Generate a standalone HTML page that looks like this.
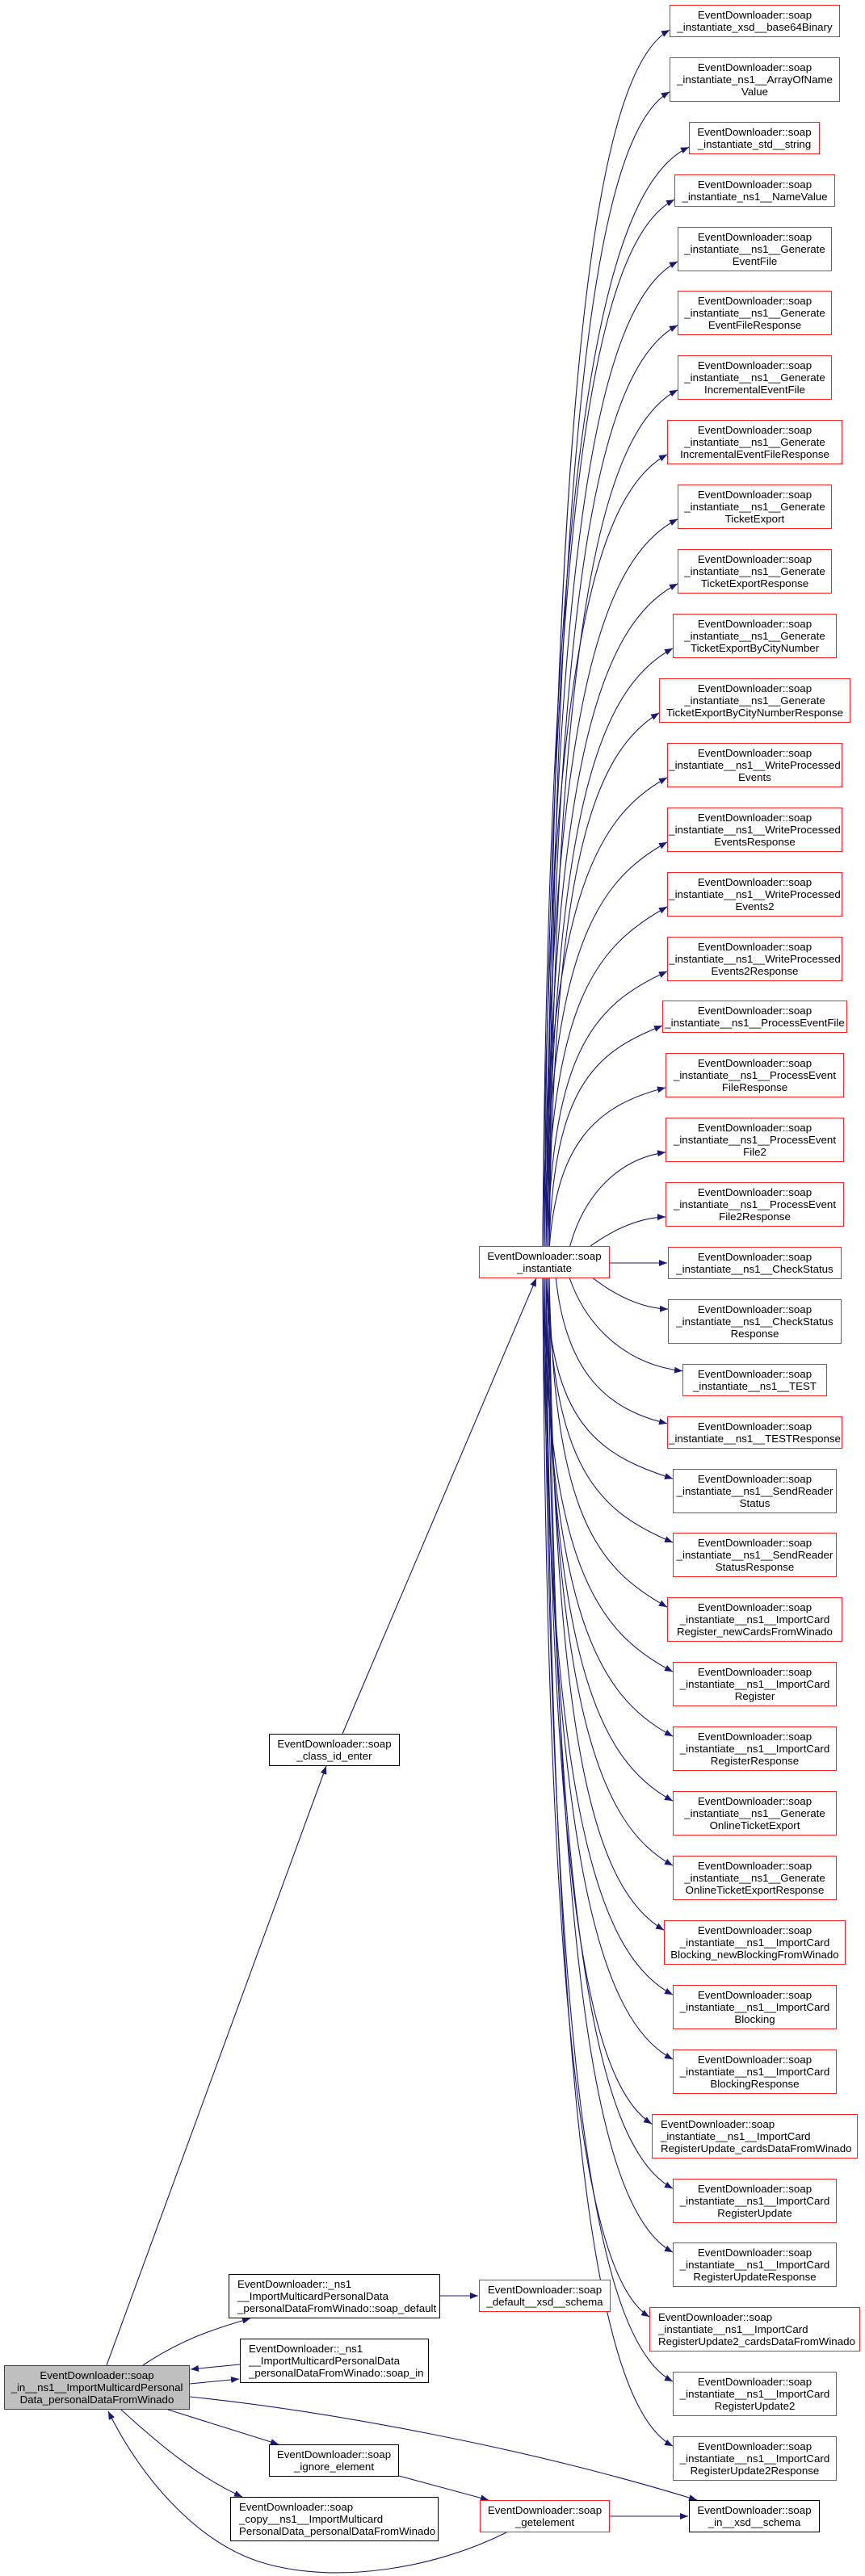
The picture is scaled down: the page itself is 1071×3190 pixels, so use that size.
<!DOCTYPE html>
<html><head><meta charset="utf-8">
<style>
html,body{margin:0;padding:0;background:#fff;}
body{width:1071px;height:3190px;position:relative;overflow:hidden;font-family:"Liberation Sans",Arial,sans-serif;}
.n{position:absolute;box-sizing:border-box;border:1px solid #000;background:#fff;font-size:13.3px;line-height:15px;text-align:center;color:#000;white-space:nowrap;display:flex;flex-direction:column;justify-content:center;}
.r{border:1.5px solid #ff2020;}
.g{background:#bfbfbf;border-color:#404040;}
svg{position:absolute;left:0;top:0;}
</style></head><body>
<svg id="s" width="1071" height="3190" viewBox="0 0 1071 3190">
<defs><marker id="a" markerUnits="userSpaceOnUse" markerWidth="11" markerHeight="8" refX="10" refY="4" orient="auto"><path d="M0,0 L10,4 L0,8 z" fill="#191970"/></marker></defs>
<g id="e" fill="none" stroke="#191970" stroke-width="1.1" marker-end="url(#a)">
<path d="M132,2929 L404,2187"/>
<path d="M424,2147 L664,1583"/>
<path d="M177,2929 C220,2900 260,2885 310,2871"/>
<path d="M297,2928 L236,2934"/>
<path d="M235,2952 L296,2946"/>
<path d="M235,2968 C400,2985 650,3030 863,3096"/>
<path d="M208,2984 L345,3027"/>
<path d="M150,2984 C200,3030 250,3070 300,3092"/>
<path d="M627,3136 C540,3180 420,3200 330,3175 C240,3150 170,3060 134,2986"/>
<path d="M494,3066 L605,3096"/>
<path d="M755,3116 L852,3116"/>
<path d="M545,2843 L592,2843"/>
</g></svg>

<div class="n g" style="left:5px;top:2929px;width:230px;height:55px">EventDownloader::soap<br>_in__ns1__ImportMulticardPersonal<br>Data_personalDataFromWinado</div>
<div class="n" style="left:333px;top:2147px;width:162px;height:40px">EventDownloader::soap<br>_class_id_enter</div>
<div class="n r" style="left:593px;top:1543px;width:162px;height:40px">EventDownloader::soap<br>_instantiate</div>
<div class="n" style="left:283px;top:2816px;width:262px;height:55px;text-align:left;padding-left:10px">EventDownloader::_ns1<br>__ImportMulticardPersonalData<br>_personalDataFromWinado::soap_default</div>
<div class="n r" style="left:593px;top:2823px;width:163px;height:40px">EventDownloader::soap<br>_default__xsd__schema</div>
<div class="n" style="left:297px;top:2896px;width:234px;height:55px;text-align:left;padding-left:10px">EventDownloader::_ns1<br>__ImportMulticardPersonalData<br>_personalDataFromWinado::soap_in</div>
<div class="n" style="left:333px;top:3027px;width:161px;height:40px">EventDownloader::soap<br>_ignore_element</div>
<div class="n" style="left:285px;top:3092px;width:258px;height:55px;text-align:left;padding-left:10px">EventDownloader::soap<br>_copy__ns1__ImportMulticard<br>PersonalData_personalDataFromWinado</div>
<div class="n r" style="left:594px;top:3096px;width:161px;height:40px">EventDownloader::soap<br>_getelement</div>
<div class="n" style="left:853px;top:3096px;width:162px;height:40px">EventDownloader::soap<br>_in__xsd__schema</div>

<div class="n r" style="left:829px;top:6px;width:211px;height:40px">EventDownloader::soap<br>_instantiate_xsd__base64Binary</div>
<div class="n r" style="left:829px;top:71px;width:211px;height:55px">EventDownloader::soap<br>_instantiate_ns1__ArrayOfName<br>Value</div>
<div class="n r" style="left:853px;top:151px;width:162px;height:40px">EventDownloader::soap<br>_instantiate_std__string</div>
<div class="n r" style="left:835px;top:216px;width:199px;height:40px">EventDownloader::soap<br>_instantiate_ns1__NameValue</div>
<div class="n r" style="left:839px;top:281px;width:191px;height:55px">EventDownloader::soap<br>_instantiate__ns1__Generate<br>EventFile</div>
<div class="n r" style="left:839px;top:360px;width:191px;height:55px">EventDownloader::soap<br>_instantiate__ns1__Generate<br>EventFileResponse</div>
<div class="n r" style="left:839px;top:440px;width:191px;height:55px">EventDownloader::soap<br>_instantiate__ns1__Generate<br>IncrementalEventFile</div>
<div class="n r" style="left:826px;top:520px;width:217px;height:55px">EventDownloader::soap<br>_instantiate__ns1__Generate<br>IncrementalEventFileResponse</div>
<div class="n r" style="left:839px;top:600px;width:191px;height:55px">EventDownloader::soap<br>_instantiate__ns1__Generate<br>TicketExport</div>
<div class="n r" style="left:839px;top:680px;width:191px;height:55px">EventDownloader::soap<br>_instantiate__ns1__Generate<br>TicketExportResponse</div>
<div class="n r" style="left:833px;top:760px;width:203px;height:55px">EventDownloader::soap<br>_instantiate__ns1__Generate<br>TicketExportByCityNumber</div>
<div class="n r" style="left:816px;top:840px;width:237px;height:55px">EventDownloader::soap<br>_instantiate__ns1__Generate<br>TicketExportByCityNumberResponse</div>
<div class="n r" style="left:826px;top:920px;width:217px;height:55px">EventDownloader::soap<br>_instantiate__ns1__WriteProcessed<br>Events</div>
<div class="n r" style="left:826px;top:1000px;width:217px;height:55px">EventDownloader::soap<br>_instantiate__ns1__WriteProcessed<br>EventsResponse</div>
<div class="n r" style="left:826px;top:1080px;width:217px;height:55px">EventDownloader::soap<br>_instantiate__ns1__WriteProcessed<br>Events2</div>
<div class="n r" style="left:826px;top:1160px;width:217px;height:55px">EventDownloader::soap<br>_instantiate__ns1__WriteProcessed<br>Events2Response</div>
<div class="n r" style="left:820px;top:1239px;width:229px;height:40px">EventDownloader::soap<br>_instantiate__ns1__ProcessEventFile</div>
<div class="n r" style="left:824px;top:1304px;width:221px;height:55px">EventDownloader::soap<br>_instantiate__ns1__ProcessEvent<br>FileResponse</div>
<div class="n r" style="left:824px;top:1384px;width:221px;height:55px">EventDownloader::soap<br>_instantiate__ns1__ProcessEvent<br>File2</div>
<div class="n r" style="left:824px;top:1464px;width:221px;height:55px">EventDownloader::soap<br>_instantiate__ns1__ProcessEvent<br>File2Response</div>
<div class="n r" style="left:827px;top:1544px;width:215px;height:40px">EventDownloader::soap<br>_instantiate__ns1__CheckStatus</div>
<div class="n r" style="left:827px;top:1609px;width:215px;height:55px">EventDownloader::soap<br>_instantiate__ns1__CheckStatus<br>Response</div>
<div class="n r" style="left:845px;top:1689px;width:179px;height:40px">EventDownloader::soap<br>_instantiate__ns1__TEST</div>
<div class="n r" style="left:826px;top:1754px;width:217px;height:40px">EventDownloader::soap<br>_instantiate__ns1__TESTResponse</div>
<div class="n r" style="left:833px;top:1819px;width:203px;height:55px">EventDownloader::soap<br>_instantiate__ns1__SendReader<br>Status</div>
<div class="n r" style="left:833px;top:1898px;width:203px;height:55px">EventDownloader::soap<br>_instantiate__ns1__SendReader<br>StatusResponse</div>
<div class="n r" style="left:826px;top:1978px;width:217px;height:55px">EventDownloader::soap<br>_instantiate__ns1__ImportCard<br>Register_newCardsFromWinado</div>
<div class="n r" style="left:833px;top:2058px;width:203px;height:55px">EventDownloader::soap<br>_instantiate__ns1__ImportCard<br>Register</div>
<div class="n r" style="left:833px;top:2138px;width:203px;height:55px">EventDownloader::soap<br>_instantiate__ns1__ImportCard<br>RegisterResponse</div>
<div class="n r" style="left:833px;top:2218px;width:203px;height:55px">EventDownloader::soap<br>_instantiate__ns1__Generate<br>OnlineTicketExport</div>
<div class="n r" style="left:833px;top:2298px;width:203px;height:55px">EventDownloader::soap<br>_instantiate__ns1__Generate<br>OnlineTicketExportResponse</div>
<div class="n r" style="left:822px;top:2378px;width:225px;height:55px">EventDownloader::soap<br>_instantiate__ns1__ImportCard<br>Blocking_newBlockingFromWinado</div>
<div class="n r" style="left:833px;top:2458px;width:203px;height:55px">EventDownloader::soap<br>_instantiate__ns1__ImportCard<br>Blocking</div>
<div class="n r" style="left:833px;top:2538px;width:203px;height:55px">EventDownloader::soap<br>_instantiate__ns1__ImportCard<br>BlockingResponse</div>
<div class="n r" style="left:807px;top:2618px;width:255px;height:55px;text-align:left;padding-left:10px">EventDownloader::soap<br>_instantiate__ns1__ImportCard<br>RegisterUpdate_cardsDataFromWinado</div>
<div class="n r" style="left:833px;top:2698px;width:203px;height:55px">EventDownloader::soap<br>_instantiate__ns1__ImportCard<br>RegisterUpdate</div>
<div class="n r" style="left:833px;top:2777px;width:203px;height:55px">EventDownloader::soap<br>_instantiate__ns1__ImportCard<br>RegisterUpdateResponse</div>
<div class="n r" style="left:804px;top:2857px;width:261px;height:55px;text-align:left;padding-left:10px">EventDownloader::soap<br>_instantiate__ns1__ImportCard<br>RegisterUpdate2_cardsDataFromWinado</div>
<div class="n r" style="left:833px;top:2937px;width:203px;height:55px">EventDownloader::soap<br>_instantiate__ns1__ImportCard<br>RegisterUpdate2</div>
<div class="n r" style="left:833px;top:3017px;width:203px;height:55px">EventDownloader::soap<br>_instantiate__ns1__ImportCard<br>RegisterUpdate2Response</div>

<script>
(function(){
var g=document.getElementById('e');
var nodes=document.querySelectorAll('.n.r');
var ns='http://www.w3.org/2000/svg';
for(var i=0;i<nodes.length;i++){
 var d=nodes[i];var L=parseFloat(d.style.left);if(L<800)continue;
 var T=parseFloat(d.style.top),H=parseFloat(d.style.height);
 var mid=T+H/2, tx=L, ty, sx, sy, p;
 var dy=mid-1563;
 if(Math.abs(dy)<10){p='M755,1564 L'+(tx-1)+',1564';}
 else{
  var up=dy<0;
  sy=up?1543:1583;
  var f=Math.max(0,1-Math.abs(dy)/260);
  sx=672+(i%5)*2+76*f;
  ty=up?T+H*0.78:T+H*0.22;
  var dx=tx-sx;
  var a=0.04*(1-f)+0.3*f, b=0.72*(1-f)+0.3*f;
  var c1x=sx+dx*a, c1y=sy+(ty-sy)*b;
  var c2x=sx+dx*(0.4+0.25*f), c2y=ty+(up?1:-1)*Math.min(50,Math.abs(ty-sy)*0.12)*(1-f);
  p='M'+sx+','+sy+' C'+c1x+','+c1y+' '+c2x+','+c2y+' '+tx+','+ty;
 }
 var e=document.createElementNS(ns,'path');e.setAttribute('d',p);g.appendChild(e);
}
})();
</script>
</body></html>
